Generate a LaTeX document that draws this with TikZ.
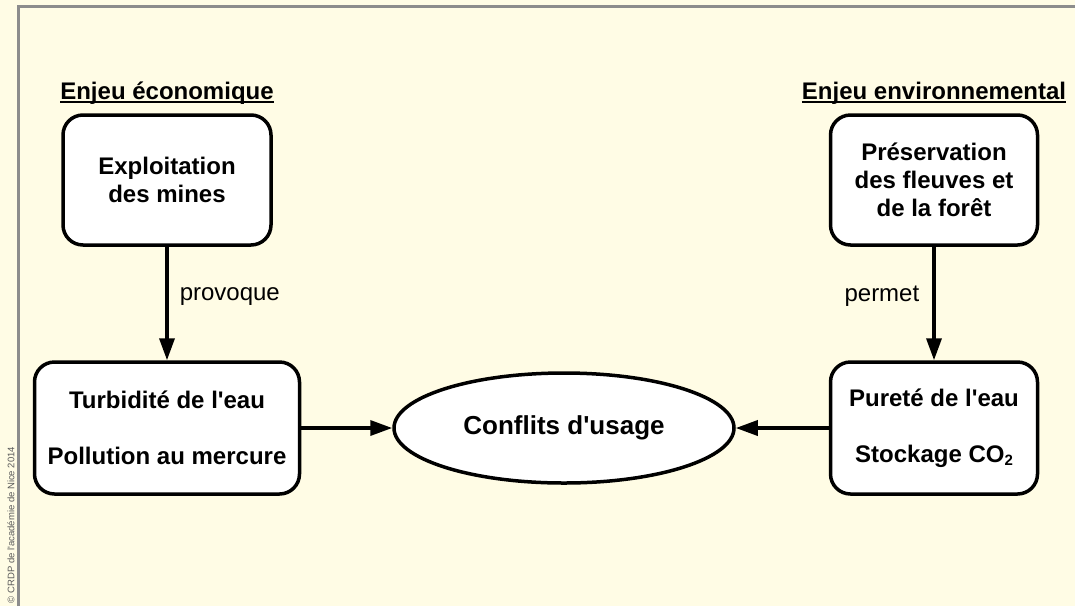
\documentclass[tikz,border=0pt]{standalone}
\usepackage{fontspec}
\setmainfont{Liberation Sans}
\usetikzlibrary{shapes.geometric,arrows.meta}

\definecolor{fond}{RGB}{255,252,229}
\definecolor{cadre}{RGB}{140,140,140}

\newcommand{\apos}{\textquotesingle}

\begin{document}
\begin{tikzpicture}[
    x=1pt,
    y=-1pt,
    box/.style={
      draw=black,
      line width=3.5pt,
      fill=white,
      rounded corners=20pt,
      align=center,
      inner sep=0pt,
      font=\bfseries\fontsize{24}{28}\selectfont
    },
    arrow/.style={
      line width=3.5pt,
      -{Triangle[length=22pt,width=15pt]}
    },
    relation/.style={
      inner sep=0pt,
      font=\fontsize{24}{28}\selectfont
    },
    title/.style={
      inner sep=0pt,
      anchor=base,
      font=\bfseries\fontsize{24}{28}\selectfont
    }
  ]

    % Background and frame
    \useasboundingbox (0,0) rectangle (1075,606);
    \fill[fond] (0,0) rectangle (1075,606);
    \draw[cadre, line width=3pt] (18,606) -- (18,6) -- (1075,6);

    % Credit
    \node[rotate=90, inner sep=0pt, text=black!65,
      font=\fontsize{9.5}{11}\selectfont] (credit) at (11,525)
      {© CRDP de l\apos académie de Nice 2014};

    % Economic side
    \node[title] (ecotitle) at (167,99) {Enjeu économique};
    \draw[line width=2pt] ([yshift=-2.5pt]ecotitle.base west) -- ([yshift=-2.5pt]ecotitle.base east);

    \node[box, minimum width=208pt, minimum height=130pt] (mines) at (167,180)
      {Exploitation\\des mines};
    \node[box, minimum width=265pt, minimum height=132pt] (turbid) at (167,428)
      {Turbidité de l\apos eau\\[28pt]Pollution au mercure};

    % Environmental side
    \node[title] (envtitle) at (934,99) {Enjeu environnemental};
    \draw[line width=2pt] ([yshift=-2.5pt]envtitle.base west) -- ([yshift=-2.5pt]envtitle.base east);

    \node[box, minimum width=207pt, minimum height=130pt] (preserv) at (934,180)
      {Préservation\\des fleuves et\\de la forêt};
    \node[box, minimum width=207pt, minimum height=132pt] (purete) at (934,428)
      {Pureté de l\apos eau\\[28pt]Stockage CO\raisebox{-3.5pt}{\fontsize{15}{15}\selectfont 2}};

    % Centre
    \node[box, ellipse, rounded corners=0pt, minimum width=340pt, minimum height=110pt,
      font=\bfseries\fontsize{26}{30}\selectfont] (conflits) at (564,428)
      {Conflits d\apos usage};

    % Connectors
    \draw[arrow] (mines.south) -- node[relation, pos=0.44, right=11pt] {provoque} (turbid.north);
    \draw[arrow] (preserv.south) -- node[relation, pos=0.44, left=13pt] {permet} (purete.north);
    \draw[arrow] (turbid.east) -- (conflits.west);
    \draw[arrow] (purete.west) -- (conflits.east);

  \end{tikzpicture}
\end{document}
